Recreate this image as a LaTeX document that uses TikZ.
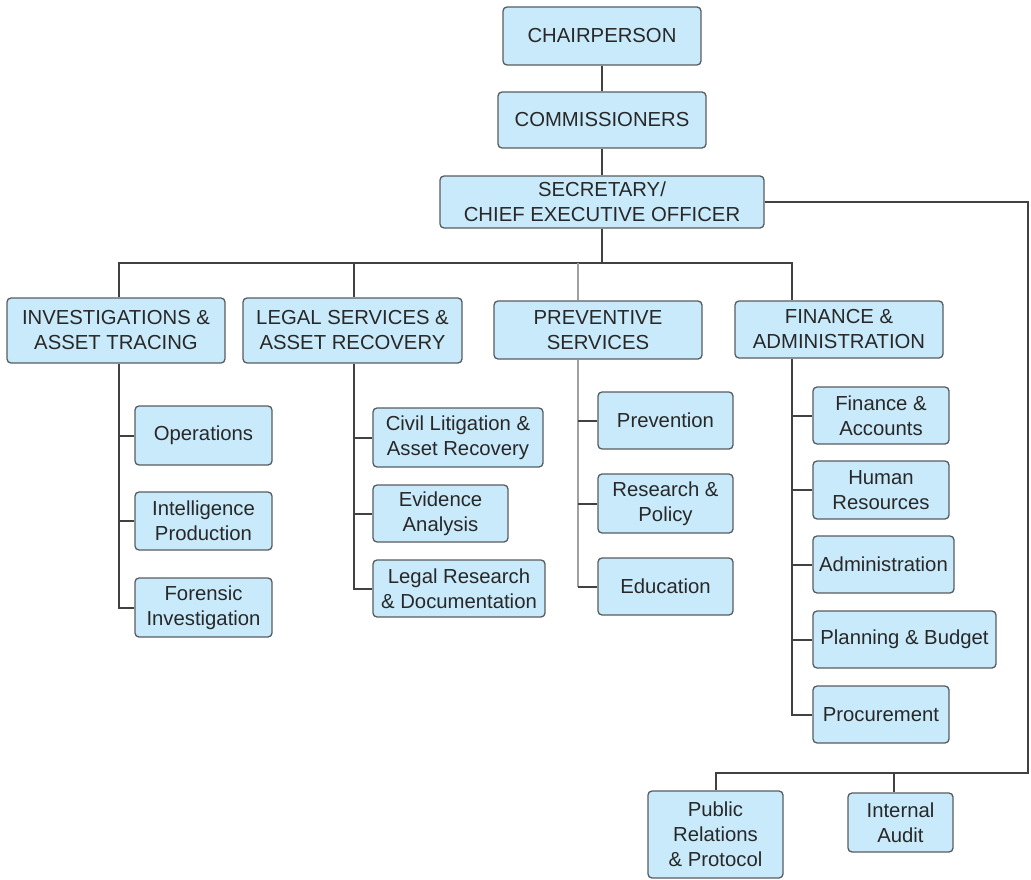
\documentclass[tikz,border=0pt]{standalone}
\usepackage{fontspec}
\setmainfont{Liberation Sans}
\definecolor{boxfill}{RGB}{201,234,250}
\definecolor{boxdraw}{RGB}{88,92,96}
\definecolor{linecol}{RGB}{65,65,65}
\definecolor{lightline}{RGB}{160,160,160}
\definecolor{textcol}{RGB}{40,40,40}
\tikzset{
  orgbox/.style={draw=boxdraw, fill=boxfill, rounded corners=4pt, line width=1.3pt,
    inner sep=0pt, align=center, text=textcol, font=\fontsize{20.3}{25}\selectfont},
  conn/.style={draw=linecol, line width=2pt},
  lconn/.style={draw=lightline, line width=2pt}
}
\newcommand{\bx}[6]{\node[orgbox, minimum width={(#4-#2)*1pt}, minimum height={(#5-#3)*1pt}] (#1) at ({(#2+#4)/2},{(#3+#5)/2}) {#6};}
\begin{document}
\begin{tikzpicture}[x=1pt,y=-1pt]
\useasboundingbox (0,0) rectangle (1031,880);
% stems
\coordinate (bus) at (0,263);
\coordinate (invx) at (119,0);
\coordinate (legx) at (354,0);
\coordinate (prvx) at (578,0);
\coordinate (finx) at (792,0);
\coordinate (rx) at (1028,0);
\coordinate (bot) at (0,773);
\coordinate (iax) at (894,0);
% top
\bx{chair}{503}{7}{701}{65}{CHAIRPERSON}
\bx{comm}{498}{92}{706}{148}{COMMISSIONERS}
\bx{ceo}{440}{176}{764}{228}{SECRETARY/\\CHIEF EXECUTIVE OFFICER}
% departments
\bx{inv}{7}{298}{225}{363}{INVESTIGATIONS \&\\ASSET TRACING}
\bx{leg}{243}{298}{462}{363}{LEGAL SERVICES \&\\ASSET RECOVERY}
\bx{prv}{494}{301}{702}{359}{PREVENTIVE\\SERVICES}
\bx{fin}{735}{301}{943}{358}{FINANCE \&\\ADMINISTRATION}
% investigations
\bx{ops}{135}{406}{272}{465}{Operations}
\bx{intel}{135}{492}{272}{550}{Intelligence\\Production}
\bx{fore}{135}{578}{272}{637}{Forensic\\Investigation}
% legal
\bx{civil}{373}{408}{543}{467}{Civil Litigation \&\\Asset Recovery}
\bx{evid}{373}{485}{508}{542}{Evidence\\Analysis}
\bx{lres}{373}{560}{545}{617}{Legal Research\\\& Documentation}
% preventive
\bx{prev}{598}{392}{733}{449}{Prevention}
\bx{rpol}{598}{474}{733}{533}{Research \&\\Policy}
\bx{edu}{598}{558}{733}{615}{Education}
% finance
\bx{facc}{813}{387}{949}{444}{Finance \&\\Accounts}
\bx{hr}{813}{461}{949}{519}{Human\\Resources}
\bx{adm}{813}{536}{954}{593}{Administration}
\bx{plan}{813}{611}{996}{668}{Planning \& Budget}
\bx{proc}{813}{686}{949}{743}{Procurement}
% bottom
\bx{pr}{648}{791}{783}{878}{Public\\Relations\\\& Protocol}
\bx{ia}{848}{793}{953}{852}{Internal\\Audit}
% connectors
\draw[conn] (chair.south) -- (comm.north);
\draw[conn] (comm.south) -- (ceo.north);
\draw[conn] (ceo.south) -- (ceo.south |- bus);
\draw[conn] (invx |- inv.north) -- (invx |- bus) -- (finx |- bus) -- (finx |- fin.north);
\draw[conn] (legx |- bus) -- (legx |- leg.north);
\draw[lconn] (prvx |- bus) -- (prvx |- prv.north);
% investigations
\draw[conn] (invx |- inv.south) -- (invx |- fore.west) -- (fore.west);
\draw[conn] (invx |- ops.west) -- (ops.west);
\draw[conn] (invx |- intel.west) -- (intel.west);
% legal
\draw[conn] (legx |- leg.south) -- (legx |- lres.west) -- (lres.west);
\draw[conn] (legx |- civil.west) -- (civil.west);
\draw[conn] (legx |- evid.west) -- (evid.west);
% preventive
\draw[lconn] (prvx |- prv.south) -- (prvx |- edu.west);
\draw[conn] (prvx |- prev.west) -- (prev.west);
\draw[conn] (prvx |- rpol.west) -- (rpol.west);
\draw[conn] (prvx |- edu.west) -- (edu.west);
% finance
\draw[conn] (finx |- fin.south) -- (finx |- proc.west) -- (proc.west);
\draw[conn] (finx |- facc.west) -- (facc.west);
\draw[conn] (finx |- hr.west) -- (hr.west);
\draw[conn] (finx |- adm.west) -- (adm.west);
\draw[conn] (finx |- plan.west) -- (plan.west);
% right branch
\draw[conn] (ceo.east) -- (ceo.east -| rx) -- (rx |- bot) -- (pr.north |- bot) -- (pr.north);
\draw[conn] (iax |- bot) -- (iax |- ia.north);
\end{tikzpicture}
\end{document}
